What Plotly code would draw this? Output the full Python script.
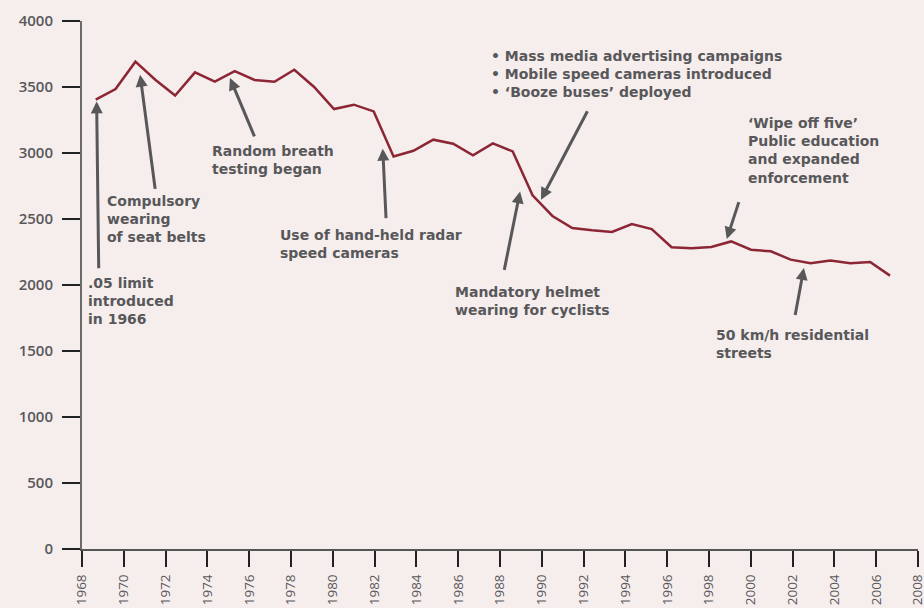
import plotly.graph_objects as go

# ---- data ----
years = [1968, 1969, 1970, 1971, 1972, 1973, 1974, 1975, 1976, 1977,
         1978, 1979, 1980, 1981, 1982, 1983, 1984, 1985, 1986, 1987,
         1988, 1989, 1990, 1991, 1992, 1993, 1994, 1995, 1996, 1997,
         1998, 1999, 2000, 2001, 2002, 2003, 2004, 2005, 2006, 2007, 2008]
deaths = [3404, 3485, 3692, 3555, 3436, 3611, 3540, 3621, 3553, 3540,
          3631, 3500, 3333, 3366, 3315, 2974, 3017, 3101, 3070, 2982,
          3073, 3012, 2680, 2523, 2432, 2414, 2402, 2462, 2424, 2286,
          2279, 2288, 2330, 2267, 2255, 2192, 2164, 2186, 2165, 2174, 2071]
tick_years = list(range(1968, 2009, 2))
tick_labels = [str(y) for y in tick_years]
y_ticks = list(range(0, 4001, 500))

# annotation notes: lines of text, anchor (year, value) of first line
notes = [
    ([".05 limit", "introduced", "in 1966"], 1968.29, 2010),
    (["Compulsory", "wearing", "of seat belts"], 1969.21, 2631),
    (["Random breath", "testing began"], 1974.23, 3005),
    (["Use of hand-held radar", "speed cameras"], 1977.47, 2368),
    (["Mandatory helmet", "wearing for cyclists"], 1985.85, 1939),
    (["\u2022 Mass media advertising campaigns",
      "\u2022 Mobile speed cameras introduced",
      "\u2022 \u2018Booze buses\u2019 deployed"], 1987.56, 3727),
    (["\u2018Wipe off five\u2019", "Public education", "and expanded", "enforcement"], 1999.88, 3220),
    (["50 km/h residential", "streets"], 1998.32, 1611),
]
# arrows: (tip year, tip value, tail year, tail value)
arrows = [
    (1968.70, 3391, 1968.80, 2116),
    (1970.78, 3593, 1971.51, 2717),
    (1975.08, 3568, 1976.28, 3114),
    (1982.39, 3033, 1982.55, 2495),
    (1988.96, 2709, 1988.19, 2103),
    (1989.96, 2646, 1992.22, 3328),
    (1998.85, 2348, 1999.45, 2639),
    (2002.54, 2129, 2002.11, 1762),
]

BG = "#f6eded"
TXT = "#58585a"
LINE = "#8c2634"
FONT = "Open Sans"
NOTE_FONT = "DejaVu Sans"

fig = go.Figure()
fig.add_trace(go.Scatter(
    x=years, y=deaths, xaxis="x2", yaxis="y", mode="lines",
    line=dict(color=LINE, width=2.5), hoverinfo="skip", showlegend=False))

annotations = []
for (tx, ty, ax, ay) in arrows:
    annotations.append(dict(
        x=tx, y=ty, ax=ax, ay=ay, xref="x", yref="y", axref="x", ayref="y",
        text="", showarrow=True, arrowhead=2, arrowsize=0.8, arrowwidth=3,
        arrowcolor=TXT, standoff=0))
for lines, x0, y0 in notes:
    annotations.append(dict(
        x=x0, y=y0, xref="x", yref="y", text="<br>".join(lines),
        showarrow=False, xanchor="left", yanchor="top", align="left",
        yshift=9, borderpad=0, borderwidth=0,
        font=dict(family=NOTE_FONT, size=14, color=TXT, weight="bold")))

fig.update_layout(
    width=924, height=608,
    margin=dict(l=82, r=6, t=21, b=59, autoexpand=False),
    paper_bgcolor=BG, plot_bgcolor=BG,
    showlegend=False,
    annotations=annotations,
    xaxis=dict(range=[1968, 2008], tickvals=tick_years, ticktext=tick_labels,
               tickangle=-90, ticks="outside", ticklen=16, tickwidth=1.5,
               tickcolor="#222222", showline=True, linecolor="#555555",
               linewidth=2, showgrid=False, zeroline=False,
               ticklabelstandoff=2, automargin=False, ticklabeloverflow="allow",
               tickfont=dict(family=FONT, size=13.5, color=TXT)),
    xaxis2=dict(range=[1967.31, 2009.41], overlaying="x", anchor="y",
                visible=False, showgrid=False, zeroline=False),
    yaxis=dict(range=[0, 4000], tickvals=y_ticks, ticks="outside", ticklen=18,
               tickwidth=1.5, tickcolor="#222222", showline=True,
               linecolor="#6b6b6b", linewidth=2, showgrid=False,
               zeroline=False, ticklabelstandoff=6, automargin=False,
               tickfont=dict(family=FONT, size=15, color=TXT, weight=600)),
)

fig.write_html(
    "out.html",
    config={"displayModeBar": False},
    post_script="document.body.style.margin='0';document.body.style.overflow='hidden';"
                "document.body.style.background='" + BG + "';",
)
